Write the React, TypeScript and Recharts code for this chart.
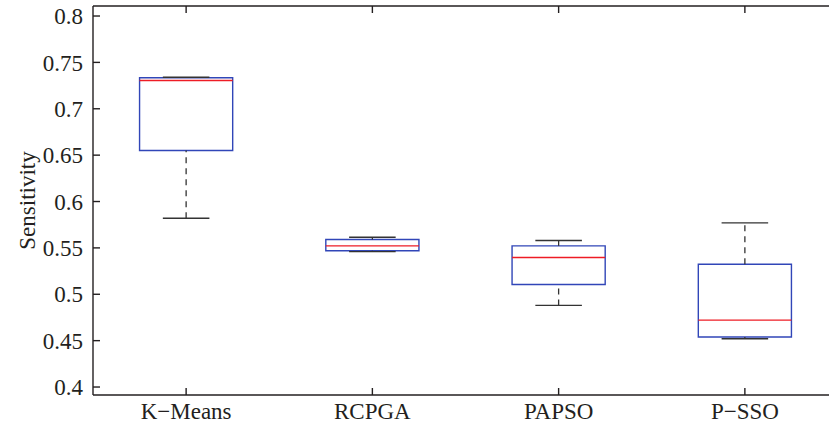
import React from "react";
import {
  ComposedChart,
  XAxis,
  YAxis,
  Scatter,
  ReferenceArea,
  ReferenceLine,
} from "recharts";

// boxplot stats
const categories = ["K\u2212Means", "RCPGA", "PAPSO", "P\u2212SSO"];
const lowerWhisker = [0.582, 0.546, 0.488, 0.452];
const q1 = [0.655, 0.547, 0.5105, 0.454];
const median = [0.7305, 0.5522, 0.5397, 0.4721];
const q3 = [0.7335, 0.559, 0.5522, 0.5324];
const upperWhisker = [0.734, 0.5615, 0.558, 0.577];

const yTicks = [0.4, 0.45, 0.5, 0.55, 0.6, 0.65, 0.7, 0.75, 0.8];
const xTicks = [1, 2, 3, 4];

const FONT = "'Liberation Serif', 'DejaVu Serif', serif";
const AXIS = "#231f20";
const BLUE = "#3146b8";
const RED = "#ee1c25";
const WHISK = "#333333";

const BOX_HALF = 0.25;
const CAP_HALF = 0.125;

const fmtY = (v: number) => {
  const s = v.toFixed(2);
  return s.endsWith("0") ? v.toFixed(1) : s;
};

const App: React.FC = () => {
  const points = categories.map((name, i) => ({ pos: i + 1, name, med: median[i] }));

  return (
    <div style={{ position: "absolute", left: 0, top: 0, width: 829, height: 427, overflow: "hidden", background: "#fff" }}>
      <ComposedChart
        width={838}
        height={427}
        data={points}
        margin={{ top: 0, right: 0, bottom: 0, left: 0 }}
        style={{ fontFamily: FONT }}
      >
        <XAxis
          dataKey="pos"
          type="number"
          domain={[0.5, 4.5]}
          ticks={xTicks}
          allowDataOverflow
          height={32}
          tickSize={-7}
          tickMargin={15}
          stroke={AXIS}
          strokeWidth={1.4}
          tick={{ fill: AXIS, fontSize: 23, fontFamily: FONT }}
          tickFormatter={(v: number) => categories[v - 1] ?? ""}
        />
        <XAxis
          xAxisId="top"
          orientation="top"
          dataKey="pos"
          type="number"
          domain={[0.5, 4.5]}
          ticks={xTicks}
          height={6}
          tickSize={-7}
          stroke={AXIS}
          strokeWidth={1.4}
          tick={() => <g />}
        />
        <YAxis
          type="number"
          domain={[0.3914, 0.8108]}
          ticks={yTicks}
          allowDataOverflow
          width={93}
          tickSize={-7}
          tickMargin={17}
          stroke={AXIS}
          strokeWidth={1.4}
          tick={{ fill: AXIS, fontSize: 23, fontFamily: FONT }}
          tickFormatter={fmtY}
          label={{
            value: "Sensitivity",
            angle: -90,
            position: "insideLeft",
            offset: 27,
            style: { textAnchor: "middle", fill: AXIS, fontSize: 23, fontFamily: FONT },
          }}
        />

        {categories.map((c, i) => (
          <ReferenceLine
            key={`uw-${c}`}
            segment={[{ x: i + 1, y: q3[i] }, { x: i + 1, y: upperWhisker[i] }]}
            stroke={WHISK}
            strokeWidth={1.3}
            strokeDasharray="6 5"
          />
        ))}
        {categories.map((c, i) => (
          <ReferenceLine
            key={`lw-${c}`}
            segment={[{ x: i + 1, y: lowerWhisker[i] }, { x: i + 1, y: q1[i] }]}
            stroke={WHISK}
            strokeWidth={1.3}
            strokeDasharray="6 5"
          />
        ))}
        {categories.map((c, i) => (
          <ReferenceLine
            key={`uc-${c}`}
            segment={[{ x: i + 1 - CAP_HALF, y: upperWhisker[i] }, { x: i + 1 + CAP_HALF, y: upperWhisker[i] }]}
            stroke={WHISK}
            strokeWidth={1.4}
          />
        ))}
        {categories.map((c, i) => (
          <ReferenceLine
            key={`lc-${c}`}
            segment={[{ x: i + 1 - CAP_HALF, y: lowerWhisker[i] }, { x: i + 1 + CAP_HALF, y: lowerWhisker[i] }]}
            stroke={WHISK}
            strokeWidth={1.4}
          />
        ))}
        {categories.map((c, i) => (
          <ReferenceArea
            key={`box-${c}`}
            x1={i + 1 - BOX_HALF}
            x2={i + 1 + BOX_HALF}
            y1={q1[i]}
            y2={q3[i]}
            fill="none"
            fillOpacity={0}
            stroke={BLUE}
            strokeWidth={1.4}
            strokeOpacity={1}
          />
        ))}
        {categories.map((c, i) => (
          <ReferenceLine
            key={`med-${c}`}
            segment={[{ x: i + 1 - BOX_HALF, y: median[i] }, { x: i + 1 + BOX_HALF, y: median[i] }]}
            stroke={RED}
            strokeWidth={1.4}
          />
        ))}

        <Scatter dataKey="med" isAnimationActive={false} shape={() => <g />} />
      </ComposedChart>
    </div>
  );
};

export default App;
